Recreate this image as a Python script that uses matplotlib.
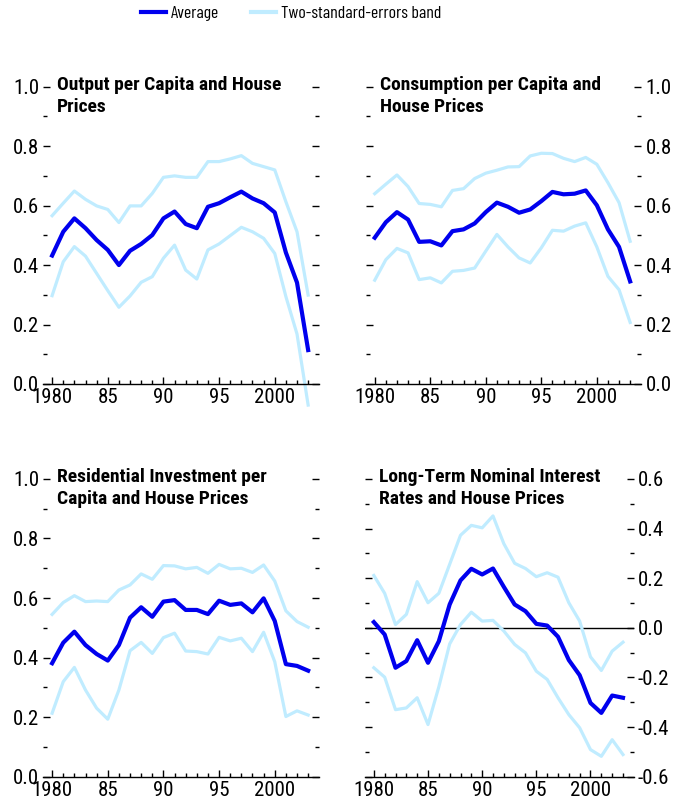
import matplotlib
matplotlib.use('Agg')
import matplotlib.pyplot as plt
from matplotlib.lines import Line2D
import numpy as np

# narrow sans faces first, plain ones as fallback
plt.rcParams['font.family'] = ['Roboto Condensed', 'Archivo Narrow', 'PT Sans Narrow',
                               'Liberation Sans Narrow', 'Liberation Sans', 'DejaVu Sans']

years = list(range(1980, 2004))

# Output per capita
output_avg = [0.432, 0.512, 0.557, 0.524, 0.484, 0.451, 0.400, 0.448, 0.471, 0.501, 0.557, 0.580,
              0.538, 0.524, 0.596, 0.608, 0.628, 0.647, 0.624, 0.608, 0.577, 0.442, 0.341, 0.114]
output_hi = [0.566, 0.608, 0.649, 0.621, 0.599, 0.587, 0.543, 0.599, 0.599, 0.641, 0.695, 0.700,
             0.695, 0.695, 0.748, 0.748, 0.757, 0.768, 0.742, 0.731, 0.720, 0.613, 0.512, 0.299]
output_lo = [0.297, 0.411, 0.462, 0.430, 0.372, 0.314, 0.258, 0.296, 0.342, 0.361, 0.423, 0.467,
             0.383, 0.353, 0.451, 0.471, 0.499, 0.527, 0.512, 0.490, 0.439, 0.294, 0.168, -0.071]

# Consumption per capita
cons_avg = [0.492, 0.544, 0.578, 0.553, 0.478, 0.480, 0.466, 0.514, 0.520, 0.540, 0.578, 0.610,
            0.596, 0.576, 0.587, 0.615, 0.646, 0.638, 0.640, 0.651, 0.601, 0.520, 0.461, 0.345]
cons_hi = [0.640, 0.672, 0.703, 0.664, 0.607, 0.604, 0.596, 0.651, 0.657, 0.691, 0.709, 0.719,
           0.730, 0.731, 0.767, 0.776, 0.775, 0.759, 0.748, 0.762, 0.739, 0.677, 0.610, 0.480]
cons_lo = [0.349, 0.418, 0.456, 0.441, 0.351, 0.357, 0.340, 0.379, 0.382, 0.390, 0.447, 0.503,
           0.461, 0.424, 0.407, 0.458, 0.517, 0.514, 0.531, 0.542, 0.461, 0.362, 0.317, 0.207]

# Residential investment per capita
resi_avg = [0.381, 0.450, 0.487, 0.442, 0.412, 0.390, 0.442, 0.534, 0.569, 0.537, 0.588, 0.593,
            0.560, 0.560, 0.546, 0.591, 0.577, 0.582, 0.552, 0.599, 0.523, 0.378, 0.372, 0.356]
resi_hi = [0.545, 0.585, 0.608, 0.588, 0.590, 0.588, 0.627, 0.644, 0.681, 0.663, 0.709, 0.708,
           0.698, 0.703, 0.683, 0.713, 0.698, 0.700, 0.686, 0.711, 0.657, 0.557, 0.521, 0.502]
resi_lo = [0.213, 0.319, 0.367, 0.291, 0.230, 0.193, 0.291, 0.423, 0.451, 0.414, 0.467, 0.482,
           0.422, 0.420, 0.412, 0.468, 0.456, 0.465, 0.420, 0.485, 0.386, 0.202, 0.221, 0.207]

# Long-term nominal interest rates
rate_avg = [0.023, -0.027, -0.161, -0.134, -0.050, -0.141, -0.054, 0.094, 0.191, 0.238, 0.215, 0.239,
            0.165, 0.094, 0.067, 0.016, 0.009, -0.036, -0.130, -0.191, -0.303, -0.343, -0.273, -0.282]
rate_hi = [0.211, 0.139, 0.013, 0.054, 0.186, 0.101, 0.139, 0.256, 0.373, 0.413, 0.403, 0.451,
           0.339, 0.260, 0.239, 0.206, 0.222, 0.204, 0.101, 0.027, -0.117, -0.172, -0.094, -0.058]
rate_lo = [-0.161, -0.199, -0.330, -0.323, -0.282, -0.390, -0.238, -0.065, 0.013, 0.063, 0.027, 0.030,
           -0.013, -0.067, -0.101, -0.175, -0.208, -0.282, -0.350, -0.403, -0.491, -0.518, -0.451, -0.511]

titles = ['Output per Capita and House\nPrices',
          'Consumption per Capita and\nHouse Prices',
          'Residential Investment per\nCapita and House Prices',
          'Long-Term Nominal Interest\nRates and House Prices']

avg_color = '#0000ee'
band_color = '#c0ecff'

fig = plt.figure(figsize=(6.75, 8.07), dpi=100)

# panel boxes in figure fractions
positions = [
    [0.064, 0.5242, 0.409, 0.3684],
    [0.542, 0.5242, 0.408, 0.3684],
    [0.064, 0.0376, 0.409, 0.3689],
    [0.541, 0.0376, 0.398, 0.3689],
]

panels = [
    (output_avg, output_hi, output_lo, (0.0, 1.0), 'left'),
    (cons_avg, cons_hi, cons_lo, (0.0, 1.0), 'right'),
    (resi_avg, resi_hi, resi_lo, (0.0, 1.0), 'left'),
    (rate_avg, rate_hi, rate_lo, (-0.6, 0.6), 'right'),
]

for k, (avg, hi, lo, ylim, side) in enumerate(panels):
    ax = fig.add_axes(positions[k])
    ax.plot(years, hi, color=band_color, lw=2.3, clip_on=False, zorder=2)
    ax.plot(years, lo, color=band_color, lw=2.3, clip_on=False, zorder=2)
    ax.plot(years, avg, color=avg_color, lw=3.0, clip_on=False, zorder=3)
    if ylim[0] < 0:
        ax.axhline(0, color='black', lw=1.0, zorder=1)

    ax.set_xlim(1979.2, 2004.0)
    ax.set_ylim(*ylim)
    for s in ['top', 'left', 'right']:
        ax.spines[s].set_visible(False)
    ax.spines['bottom'].set_linewidth(1.0)

    ax.set_xticks([1980, 1985, 1990, 1995, 2000])
    ax.set_xticklabels(['1980', '85', '90', '95', '2000'])
    ax.set_xticks(years, minor=True)
    yt = np.round(np.arange(ylim[0], ylim[1] + 0.01, 0.2), 1)
    ax.set_yticks(yt)
    ax.set_yticklabels(['%.1f' % v for v in yt])
    ax.set_yticks(np.round(np.arange(ylim[0], ylim[1] + 0.01, 0.1), 1), minor=True)

    ax.tick_params(axis='x', which='major', direction='in', length=5, width=1, pad=3, labelsize=15)
    ax.tick_params(axis='x', which='minor', direction='in', length=3, width=1)
    ax.tick_params(axis='y', which='both', direction='in', left=True, right=True,
                   labelleft=(side == 'left'), labelright=(side == 'right'),
                   width=1, labelsize=15, pad=3)
    ax.tick_params(axis='y', which='major', length=5)
    ax.tick_params(axis='y', which='minor', length=3)

    ax.text(0.05, 1.036, titles[k], transform=ax.transAxes, ha='left', va='top',
            fontsize=14, fontweight='bold', linespacing=1.27)

handles = [Line2D([], [], color=avg_color, lw=3.0),
           Line2D([], [], color=band_color, lw=3.0)]
leg = fig.legend(handles, ['Average', 'Two-standard-errors band'], loc='upper left',
                 bbox_to_anchor=(0.185, 1.013), ncol=2, frameon=False,
                 prop={'family': ['Barlow Condensed', 'Roboto Condensed'], 'size': 12.8},
                 handlelength=1.4, handletextpad=0.28, columnspacing=1.8)

fig.savefig('out.png', dpi=100)
